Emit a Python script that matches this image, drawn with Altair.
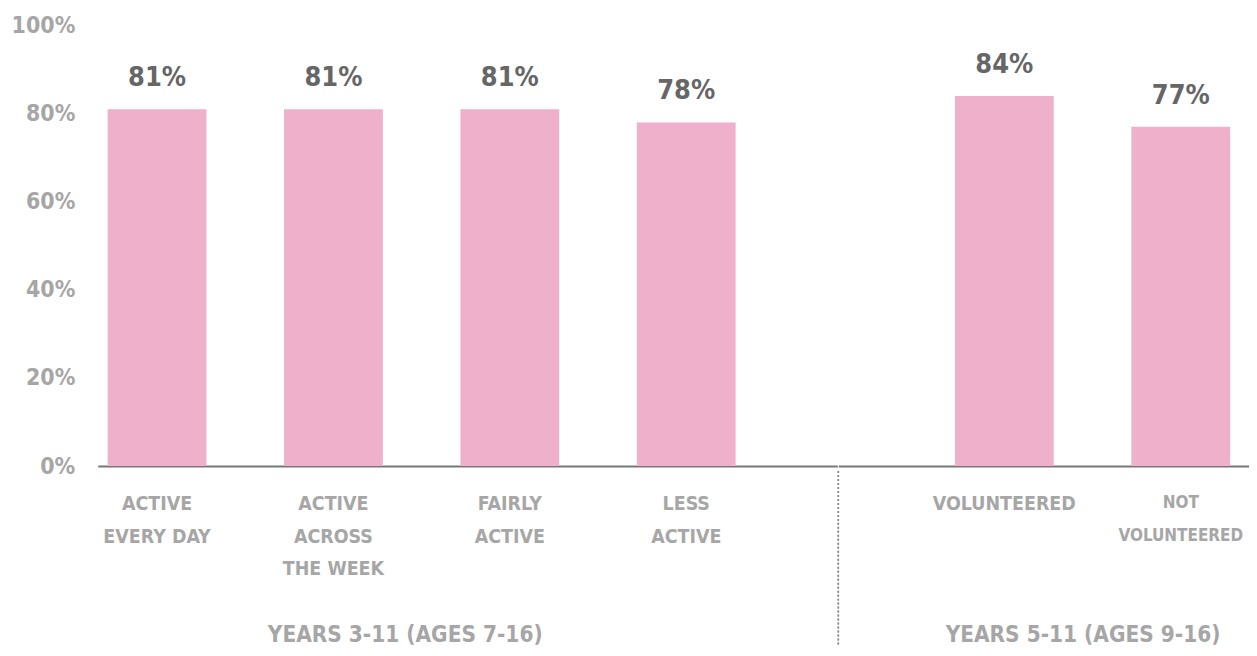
import altair as alt
import pandas as pd

# ---- data ----
left_categories = ["ACTIVE\nEVERY DAY", "ACTIVE\nACROSS\nTHE WEEK", "FAIRLY\nACTIVE", "LESS\nACTIVE"]
left_values = [0.81, 0.81, 0.81, 0.78]
right_categories = ["VOLUNTEERED", "NOT\nVOLUNTEERED"]
right_values = [0.84, 0.77]
left_group = "YEARS 3-11 (AGES 7-16)"
right_group = "YEARS 5-11 (AGES 9-16)"
y_ticks = [0, 0.2, 0.4, 0.6, 0.8, 1.0]

FONT = "DejaVu Sans Condensed"
GREY = "#a6a6a6"
DARK = "#666666"
PINK = "#efb0cb"
PLOT_H = 442


def panel(cats, vals, group, width, pad_outer, align, title_x, show_y, divider=False):
    df = pd.DataFrame({"cat": cats, "value": vals})
    x = alt.X(
        "cat:N",
        sort=cats,
        scale=alt.Scale(paddingInner=0.44, paddingOuter=pad_outer, align=align),
        axis=alt.Axis(
            title=group,
            labelAngle=0,
            labelExpr="split(datum.value, '\\n')",
            labelFont=FONT,
            labelFontSize={
                "condition": {"test": "indexof(datum.value, 'NOT') === 0", "value": 17},
                "value": 19.5,
            },
            labelFontWeight="bold",
            labelColor=GREY,
            labelLineHeight=32.5,
            labelPadding=29,
            ticks=False,
            domainColor="#777777",
            domainWidth=2,
            titleFont=FONT,
            titleFontSize=22.5,
            titleFontWeight="bold",
            titleColor=GREY,
            titleX=title_x,
            titleY=176,
            titleAlign="center",
            titleBaseline="alphabetic",
        ),
    )
    if show_y:
        yaxis = alt.Axis(
            values=y_ticks,
            format=".0%",
            title=None,
            domain=False,
            ticks=False,
            grid=False,
            labelFont=FONT,
            labelFontSize=23,
            labelFontWeight="bold",
            labelColor=GREY,
            labelPadding=23,
        )
    else:
        yaxis = None
    y = alt.Y("value:Q", scale=alt.Scale(domain=[0, 1]), axis=yaxis)
    base = alt.Chart(df)
    bars = base.mark_bar(color=PINK).encode(x=x, y=y)
    labels = base.mark_text(
        dy=-23, baseline="alphabetic", fontSize=27, fontWeight="bold", color=DARK, font=FONT
    ).encode(x=x, y=y, text=alt.Text("value:Q", format=".0%"))
    layers = [bars, labels]
    if divider:
        rule = base.mark_rule(color="#888888", strokeWidth=1.5, strokeDash=[2, 2]).encode(
            x=alt.value(0), y=alt.value(PLOT_H + 5), y2=alt.value(PLOT_H + 179)
        )
        layers.append(rule)
    return alt.layer(*layers).properties(width=width, height=PLOT_H)


left = panel(left_categories, left_values, left_group, 742, 0.3164, 0.089, 308, True)
right = panel(right_categories, right_values, right_group, 412, 0.3838, 0.861, 245, False, divider=True)

chart = (
    alt.hconcat(left, right, spacing=0)
    .properties(padding={"left": 3, "top": 5.5, "right": 0, "bottom": 0})
    .configure_view(stroke=None)
)

chart.save("out.html", embed_options={"renderer": "svg", "actions": False})
